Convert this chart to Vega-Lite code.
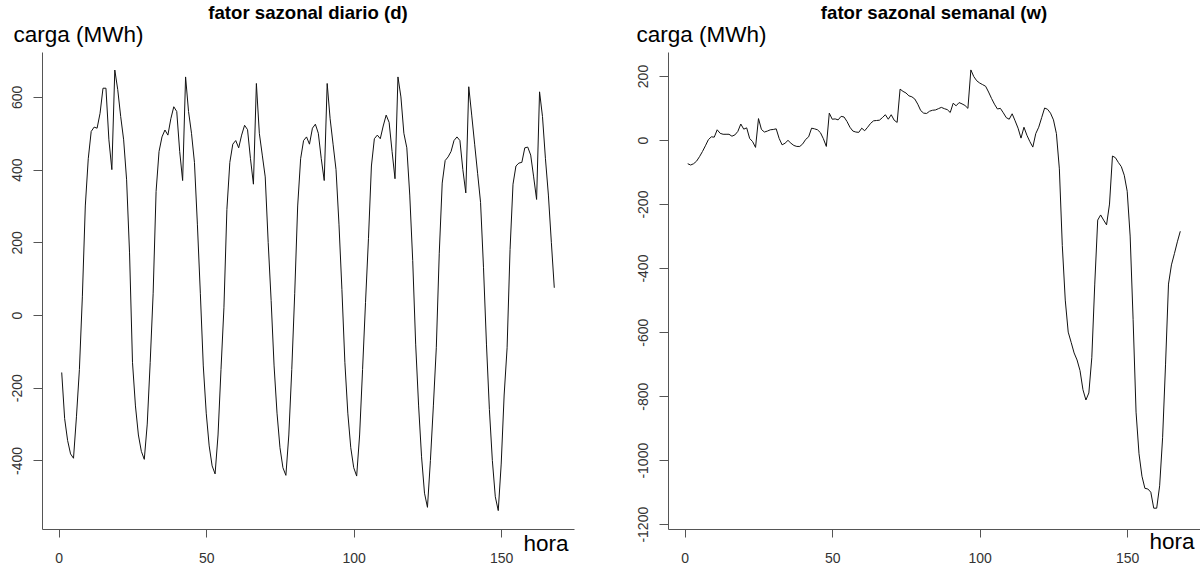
{
  "$schema": "https://vega.github.io/schema/vega-lite/v6.json",
  "background": "white",
  "padding": {"left": 9, "top": 4, "right": 0, "bottom": 0},
  "bounds": "flush",
  "spacing": 94,
  "config": {
    "view": {"stroke": null},
    "font": "Liberation Sans",
    "axis": {
      "domainColor": "#555", "tickColor": "#555", "labelColor": "#333",
      "labelFont": "Liberation Sans", "labelFontSize": 14, "grid": false,
      "titleFont": "Liberation Sans", "titleFontWeight": "normal", "titleFontSize": 22.5, "titleColor": "#000",
      "domainWidth": 1, "tickWidth": 1, "labelFlush": false, "labelOverlap": false
    },
    "title": {"font": "Liberation Sans", "fontSize": 18.6, "fontWeight": "bold", "color": "#000", "anchor": "middle"}
  },
  "datasets": {
    "diario": [
      {"hora":1,"carga":-158},{"hora":2,"carga":-285},{"hora":3,"carga":-345},{"hora":4,"carga":-382},{"hora":5,"carga":-394},{"hora":6,"carga":-280},{"hora":7,"carga":-150},{"hora":8,"carga":50},{"hora":9,"carga":300},{"hora":10,"carga":430},{"hora":11,"carga":505},{"hora":12,"carga":517},{"hora":13,"carga":514},{"hora":14,"carga":555},{"hora":15,"carga":624},{"hora":16,"carga":624},{"hora":17,"carga":482},{"hora":18,"carga":400},{"hora":19,"carga":674},{"hora":20,"carga":620},{"hora":21,"carga":546},{"hora":22,"carga":482},{"hora":23,"carga":372},{"hora":24,"carga":171},
      {"hora":25,"carga":-130},{"hora":26,"carga":-250},{"hora":27,"carga":-330},{"hora":28,"carga":-375},{"hora":29,"carga":-397},{"hora":30,"carga":-300},{"hora":31,"carga":-130},{"hora":32,"carga":60},{"hora":33,"carga":340},{"hora":34,"carga":450},{"hora":35,"carga":490},{"hora":36,"carga":509},{"hora":37,"carga":495},{"hora":38,"carga":540},{"hora":39,"carga":573},{"hora":40,"carga":560},{"hora":41,"carga":450},{"hora":42,"carga":370},{"hora":43,"carga":655},{"hora":44,"carga":560},{"hora":45,"carga":500},{"hora":46,"carga":420},{"hora":47,"carga":250},{"hora":48,"carga":60},
      {"hora":49,"carga":-140},{"hora":50,"carga":-270},{"hora":51,"carga":-360},{"hora":52,"carga":-415},{"hora":53,"carga":-437},{"hora":54,"carga":-330},{"hora":55,"carga":-150},{"hora":56,"carga":20},{"hora":57,"carga":290},{"hora":58,"carga":420},{"hora":59,"carga":470},{"hora":60,"carga":480},{"hora":61,"carga":460},{"hora":62,"carga":495},{"hora":63,"carga":522},{"hora":64,"carga":510},{"hora":65,"carga":430},{"hora":66,"carga":360},{"hora":67,"carga":637},{"hora":68,"carga":500},{"hora":69,"carga":440},{"hora":70,"carga":380},{"hora":71,"carga":200},{"hora":72,"carga":40},
      {"hora":73,"carga":-140},{"hora":74,"carga":-270},{"hora":75,"carga":-365},{"hora":76,"carga":-420},{"hora":77,"carga":-441},{"hora":78,"carga":-330},{"hora":79,"carga":-150},{"hora":80,"carga":60},{"hora":81,"carga":300},{"hora":82,"carga":430},{"hora":83,"carga":480},{"hora":84,"carga":490},{"hora":85,"carga":470},{"hora":86,"carga":514},{"hora":87,"carga":525},{"hora":88,"carga":500},{"hora":89,"carga":430},{"hora":90,"carga":370},{"hora":91,"carga":637},{"hora":92,"carga":540},{"hora":93,"carga":470},{"hora":94,"carga":400},{"hora":95,"carga":250},{"hora":96,"carga":70},
      {"hora":97,"carga":-130},{"hora":98,"carga":-270},{"hora":99,"carga":-365},{"hora":100,"carga":-420},{"hora":101,"carga":-443},{"hora":102,"carga":-330},{"hora":103,"carga":-150},{"hora":104,"carga":35},{"hora":105,"carga":210},{"hora":106,"carga":410},{"hora":107,"carga":485},{"hora":108,"carga":495},{"hora":109,"carga":485},{"hora":110,"carga":520},{"hora":111,"carga":550},{"hora":112,"carga":530},{"hora":113,"carga":450},{"hora":114,"carga":375},{"hora":115,"carga":655},{"hora":116,"carga":600},{"hora":117,"carga":500},{"hora":118,"carga":460},{"hora":119,"carga":330},{"hora":120,"carga":150},
      {"hora":121,"carga":-80},{"hora":122,"carga":-250},{"hora":123,"carga":-390},{"hora":124,"carga":-490},{"hora":125,"carga":-529},{"hora":126,"carga":-400},{"hora":127,"carga":-250},{"hora":128,"carga":-90},{"hora":129,"carga":170},{"hora":130,"carga":363},{"hora":131,"carga":425},{"hora":132,"carga":435},{"hora":133,"carga":450},{"hora":134,"carga":480},{"hora":135,"carga":490},{"hora":136,"carga":480},{"hora":137,"carga":400},{"hora":138,"carga":336},{"hora":139,"carga":628},{"hora":140,"carga":550},{"hora":141,"carga":470},{"hora":142,"carga":390},{"hora":143,"carga":310},{"hora":144,"carga":130},
      {"hora":145,"carga":-80},{"hora":146,"carga":-260},{"hora":147,"carga":-400},{"hora":148,"carga":-500},{"hora":149,"carga":-538},{"hora":150,"carga":-410},{"hora":151,"carga":-220},{"hora":152,"carga":-90},{"hora":153,"carga":180},{"hora":154,"carga":360},{"hora":155,"carga":410},{"hora":156,"carga":418},{"hora":157,"carga":420},{"hora":158,"carga":460},{"hora":159,"carga":462},{"hora":160,"carga":440},{"hora":161,"carga":380},{"hora":162,"carga":318},{"hora":163,"carga":614},{"hora":164,"carga":546},{"hora":165,"carga":430},{"hora":166,"carga":330},{"hora":167,"carga":200},{"hora":168,"carga":75}
    ],
    "semanal": [
      {"hora":1,"carga":-74},{"hora":2,"carga":-78},{"hora":3,"carga":-74},{"hora":4,"carga":-66},{"hora":5,"carga":-52},{"hora":6,"carga":-36},{"hora":7,"carga":-18},{"hora":8,"carga":1},{"hora":9,"carga":10},{"hora":10,"carga":9},{"hora":11,"carga":32},{"hora":12,"carga":21},{"hora":13,"carga":18},{"hora":14,"carga":18},{"hora":15,"carga":18},{"hora":16,"carga":12},{"hora":17,"carga":16},{"hora":18,"carga":27},{"hora":19,"carga":50},{"hora":20,"carga":34},{"hora":21,"carga":38},{"hora":22,"carga":5},{"hora":23,"carga":-5},{"hora":24,"carga":-23},
      {"hora":25,"carga":67},{"hora":26,"carga":33},{"hora":27,"carga":25},{"hora":28,"carga":28},{"hora":29,"carga":32},{"hora":30,"carga":33},{"hora":31,"carga":35},{"hora":32,"carga":5},{"hora":33,"carga":-15},{"hora":34,"carga":-10},{"hora":35,"carga":-1},{"hora":36,"carga":-10},{"hora":37,"carga":-17},{"hora":38,"carga":-20},{"hora":39,"carga":-20},{"hora":40,"carga":-12},{"hora":41,"carga":2},{"hora":42,"carga":10},{"hora":43,"carga":37},{"hora":44,"carga":35},{"hora":45,"carga":32},{"hora":46,"carga":23},{"hora":47,"carga":4},{"hora":48,"carga":-20},
      {"hora":49,"carga":84},{"hora":50,"carga":65},{"hora":51,"carga":66},{"hora":52,"carga":63},{"hora":53,"carga":74},{"hora":54,"carga":72},{"hora":55,"carga":58},{"hora":56,"carga":40},{"hora":57,"carga":28},{"hora":58,"carga":25},{"hora":59,"carga":24},{"hora":60,"carga":37},{"hora":61,"carga":29},{"hora":62,"carga":40},{"hora":63,"carga":52},{"hora":64,"carga":60},{"hora":65,"carga":61},{"hora":66,"carga":62},{"hora":67,"carga":70},{"hora":68,"carga":79},{"hora":69,"carga":65},{"hora":70,"carga":79},{"hora":71,"carga":62},{"hora":72,"carga":55},
      {"hora":73,"carga":159},{"hora":74,"carga":152},{"hora":75,"carga":147},{"hora":76,"carga":138},{"hora":77,"carga":135},{"hora":78,"carga":128},{"hora":79,"carga":112},{"hora":80,"carga":92},{"hora":81,"carga":84},{"hora":82,"carga":83},{"hora":83,"carga":90},{"hora":84,"carga":93},{"hora":85,"carga":94},{"hora":86,"carga":98},{"hora":87,"carga":102},{"hora":88,"carga":98},{"hora":89,"carga":95},{"hora":90,"carga":86},{"hora":91,"carga":115},{"hora":92,"carga":107},{"hora":93,"carga":117},{"hora":94,"carga":113},{"hora":95,"carga":108},{"hora":96,"carga":99},
      {"hora":97,"carga":219},{"hora":98,"carga":198},{"hora":99,"carga":185},{"hora":100,"carga":178},{"hora":101,"carga":173},{"hora":102,"carga":168},{"hora":103,"carga":150},{"hora":104,"carga":130},{"hora":105,"carga":112},{"hora":106,"carga":97},{"hora":107,"carga":99},{"hora":108,"carga":85},{"hora":109,"carga":70},{"hora":110,"carga":65},{"hora":111,"carga":82},{"hora":112,"carga":60},{"hora":113,"carga":37},{"hora":114,"carga":6},{"hora":115,"carga":40},{"hora":116,"carga":15},{"hora":117,"carga":-5},{"hora":118,"carga":-22},{"hora":119,"carga":20},{"hora":120,"carga":40},
      {"hora":121,"carga":70},{"hora":122,"carga":100},{"hora":123,"carga":96},{"hora":124,"carga":84},{"hora":125,"carga":63},{"hora":126,"carga":20},{"hora":127,"carga":-90},{"hora":128,"carga":-330},{"hora":129,"carga":-500},{"hora":130,"carga":-600},{"hora":131,"carga":-632},{"hora":132,"carga":-665},{"hora":133,"carga":-687},{"hora":134,"carga":-720},{"hora":135,"carga":-780},{"hora":136,"carga":-812},{"hora":137,"carga":-790},{"hora":138,"carga":-680},{"hora":139,"carga":-450},{"hora":140,"carga":-250},{"hora":141,"carga":-234},{"hora":142,"carga":-250},{"hora":143,"carga":-265},{"hora":144,"carga":-200},
      {"hora":145,"carga":-50},{"hora":146,"carga":-55},{"hora":147,"carga":-70},{"hora":148,"carga":-83},{"hora":149,"carga":-110},{"hora":150,"carga":-160},{"hora":151,"carga":-300},{"hora":152,"carga":-560},{"hora":153,"carga":-850},{"hora":154,"carga":-980},{"hora":155,"carga":-1050},{"hora":156,"carga":-1088},{"hora":157,"carga":-1090},{"hora":158,"carga":-1100},{"hora":159,"carga":-1150},{"hora":160,"carga":-1150},{"hora":161,"carga":-1080},{"hora":162,"carga":-930},{"hora":163,"carga":-700},{"hora":164,"carga":-450},{"hora":165,"carga":-390},{"hora":166,"carga":-355},{"hora":167,"carga":-318},{"hora":168,"carga":-285}
    ]
  },
  "hconcat": [
    {
      "width": 532, "height": 477,
      "title": {"text": "fator sazonal diario (d)", "offset": 0},
      "data": {"name": "diario"},
      "mark": {"type": "line", "color": "#111", "strokeWidth": 1},
      "encoding": {
        "x": {"field": "hora", "type": "quantitative",
          "scale": {"domain": [-5.68, 174.68], "nice": false, "zero": false},
          "axis": {"values": [0, 50, 100, 150], "labelExpr": "datum.value + ''", "title": "hora",
            "titleX": 526, "titleY": 21, "titleAlign": "right", "titleBaseline": "alphabetic", "titleAnchor": "end",
            "tickSize": 8, "labelPadding": 21, "labelBaseline": "middle", "labelAlign": "center"}},
        "y": {"field": "carga", "type": "quantitative",
          "scale": {"domain": [-588.6, 723.6], "nice": false, "zero": false},
          "axis": {"values": [-400, -200, 0, 200, 400, 600], "labelExpr": "datum.value + ''", "title": "carga (MWh)",
            "titleAngle": 0, "titleX": -29, "titleY": -11, "titleAlign": "left", "titleBaseline": "alphabetic", "titleAnchor": "end",
            "labelAngle": 270, "labelAlign": "center", "labelBaseline": "middle", "labelPadding": 16, "tickSize": 9}}
      }
    },
    {
      "width": 532, "height": 477,
      "title": {"text": "fator sazonal semanal (w)", "offset": 0},
      "data": {"name": "semanal"},
      "mark": {"type": "line", "color": "#111", "strokeWidth": 1},
      "encoding": {
        "x": {"field": "hora", "type": "quantitative",
          "scale": {"domain": [-5.68, 174.68], "nice": false, "zero": false},
          "axis": {"values": [0, 50, 100, 150], "labelExpr": "datum.value + ''", "title": "hora",
            "titleX": 526, "titleY": 19, "titleAlign": "right", "titleBaseline": "alphabetic", "titleAnchor": "end",
            "tickSize": 8, "labelPadding": 21, "labelBaseline": "middle", "labelAlign": "center"}},
        "y": {"field": "carga", "type": "quantitative",
          "scale": {"domain": [-1215, 275], "nice": false, "zero": false},
          "axis": {"values": [-1200, -1000, -800, -600, -400, -200, 0, 200], "labelExpr": "datum.value + ''", "title": "carga (MWh)",
            "titleAngle": 0, "titleX": -32, "titleY": -11, "titleAlign": "left", "titleBaseline": "alphabetic", "titleAnchor": "end",
            "labelAngle": 270, "labelAlign": "center", "labelBaseline": "middle", "labelPadding": 16, "tickSize": 9}}
      }
    }
  ]
}
